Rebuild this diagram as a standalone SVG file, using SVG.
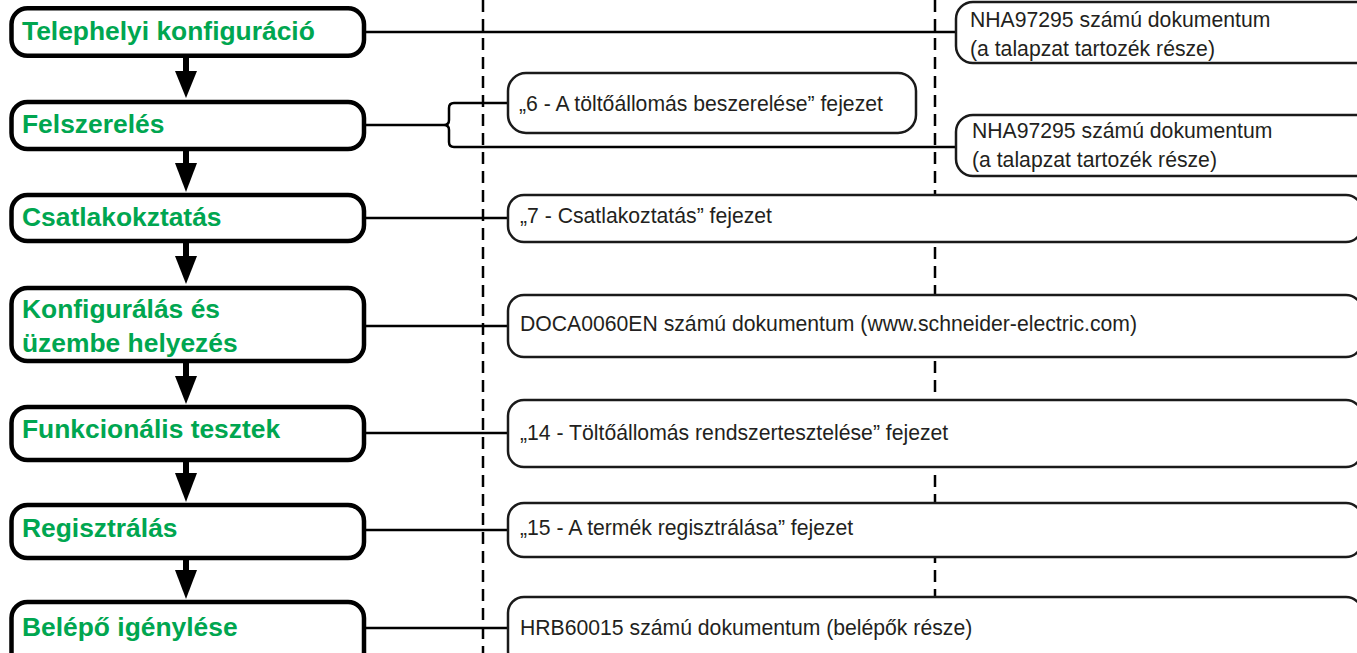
<svg xmlns="http://www.w3.org/2000/svg" width="1357" height="653" viewBox="0 0 1357 653">
  <style>
    .step { fill: #ffffff; stroke: #000000; stroke-width: 4.5; }
    .step-label { font-family: "Liberation Sans", Arial, sans-serif; font-weight: bold; font-size: 26.4px; fill: #00A650; }
    .doc { fill: #ffffff; stroke: #1a1a1a; stroke-width: 2.5; }
    .doc-label { font-family: "Liberation Sans", Arial, sans-serif; font-size: 21.2px; fill: #231F20; }
    .guide { stroke: #000000; stroke-width: 2.5; stroke-dasharray: 12 7; fill: none; }
    .link { stroke: #000000; stroke-width: 2.5; fill: none; }
    .flow { stroke: #000000; stroke-width: 6; fill: none; }
    .head { fill: #000000; }
  </style>

  <rect width="1357" height="653" fill="#ffffff"/>

  <!-- column guides -->
  <g id="guides">
    <line class="guide" x1="483" y1="0" x2="483" y2="653"/>
    <line class="guide" x1="935" y1="0" x2="935" y2="653"/>
  </g>

  <!-- connectors: step sequence and document references -->
  <g id="connectors">
    <line class="link" x1="366" y1="32" x2="956" y2="32"/>
    <line class="link" x1="366" y1="125" x2="444" y2="125"/>
    <path class="link" d="M508,103 H454 Q449,103 449,108 V120 Q449,125 444,125 Q449,125 449,130 V142 Q449,147 454,147 H956"/>
    <line class="link" x1="366" y1="218" x2="508" y2="218"/>
    <line class="link" x1="366" y1="326" x2="508" y2="326"/>
    <line class="link" x1="366" y1="433" x2="508" y2="433"/>
    <line class="link" x1="366" y1="530" x2="508" y2="530"/>
    <line class="link" x1="366" y1="628" x2="508" y2="628"/>

    <line class="flow" x1="186" y1="57" x2="186" y2="73"/>
    <polygon class="head" points="175,71 197,71 186,98"/>
    <line class="flow" x1="186" y1="150" x2="186" y2="165"/>
    <polygon class="head" points="175,163 197,163 186,192"/>
    <line class="flow" x1="186" y1="242" x2="186" y2="258"/>
    <polygon class="head" points="175,256 197,256 186,284"/>
    <line class="flow" x1="186" y1="362" x2="186" y2="378"/>
    <polygon class="head" points="175,376 197,376 186,404"/>
    <line class="flow" x1="186" y1="461" x2="186" y2="475"/>
    <polygon class="head" points="175,473 197,473 186,502"/>
    <line class="flow" x1="186" y1="559" x2="186" y2="572"/>
    <polygon class="head" points="175,570 197,570 186,599"/>
  </g>

  <!-- process steps -->
  <g id="step-site-config">
    <rect class="step" x="11.5" y="8.3" width="352.5" height="47.5" rx="16"/>
    <text class="step-label" x="22" y="40">Telephelyi konfiguráció</text>
  </g>
  <g id="step-install">
    <rect class="step" x="11.5" y="102" width="352.5" height="47" rx="16"/>
    <text class="step-label" x="22" y="133">Felszerelés</text>
  </g>
  <g id="step-connect">
    <rect class="step" x="11.5" y="195" width="352.5" height="46" rx="16"/>
    <text class="step-label" x="22" y="226">Csatlakokztatás</text>
  </g>
  <g id="step-commission">
    <rect class="step" x="11.5" y="288" width="352.5" height="73" rx="16"/>
    <text class="step-label" x="22" y="318">Konfigurálás és</text>
    <text class="step-label" x="22" y="352">üzembe helyezés</text>
  </g>
  <g id="step-tests">
    <rect class="step" x="11.5" y="407" width="352.5" height="53" rx="16"/>
    <text class="step-label" x="22" y="438">Funkcionális tesztek</text>
  </g>
  <g id="step-register">
    <rect class="step" x="11.5" y="505" width="352.5" height="53" rx="16"/>
    <text class="step-label" x="22" y="537">Regisztrálás</text>
  </g>
  <g id="step-badge">
    <rect class="step" x="11.5" y="602" width="352.5" height="70" rx="16"/>
    <text class="step-label" x="22" y="636">Belépő igénylése</text>
  </g>

  <!-- documentation references -->
  <g id="doc-site-config">
    <rect class="doc" x="956" y="2" width="420" height="61" rx="17"/>
    <text class="doc-label" x="970" y="27">NHA97295 számú dokumentum</text>
    <text class="doc-label" x="970" y="56">(a talapzat tartozék része)</text>
  </g>
  <g id="doc-install-chapter">
    <rect class="doc" x="508" y="73" width="408" height="60" rx="18"/>
    <text class="doc-label" x="519" y="111">„6 - A töltőállomás beszerelése” fejezet</text>
  </g>
  <g id="doc-install-base">
    <rect class="doc" x="956" y="115" width="420" height="61" rx="17"/>
    <text class="doc-label" x="972" y="138">NHA97295 számú dokumentum</text>
    <text class="doc-label" x="972" y="167">(a talapzat tartozék része)</text>
  </g>
  <g id="doc-connect">
    <rect class="doc" x="508" y="195" width="854" height="47" rx="16"/>
    <text class="doc-label" x="520" y="223">„7 - Csatlakoztatás” fejezet</text>
  </g>
  <g id="doc-commission">
    <rect class="doc" x="508" y="295" width="854" height="62" rx="16"/>
    <text class="doc-label" x="520" y="331">DOCA0060EN számú dokumentum (www.schneider-electric.com)</text>
  </g>
  <g id="doc-tests">
    <rect class="doc" x="508" y="400" width="854" height="67" rx="16"/>
    <text class="doc-label" x="520" y="440">„14 - Töltőállomás rendszertesztelése” fejezet</text>
  </g>
  <g id="doc-register">
    <rect class="doc" x="508" y="503" width="854" height="54" rx="16"/>
    <text class="doc-label" x="520" y="535">„15 - A termék regisztrálása” fejezet</text>
  </g>
  <g id="doc-badge">
    <rect class="doc" x="508" y="597" width="854" height="70" rx="16"/>
    <text class="doc-label" x="520" y="635">HRB60015 számú dokumentum (belépők része)</text>
  </g>
</svg>
